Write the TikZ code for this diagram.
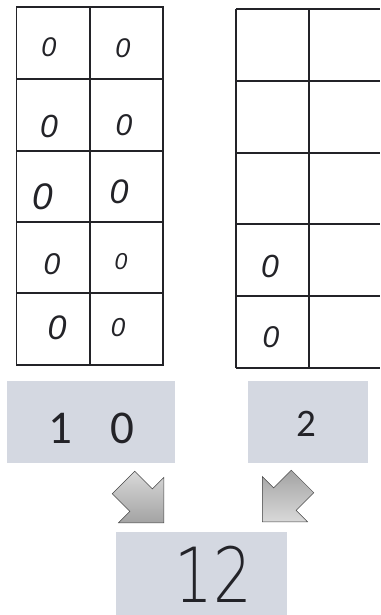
\documentclass[tikz,border=0pt]{standalone}
\usepackage{fontspec}
\setmainfont{Liberation Sans}
\newfontfamily\calib{Carlito}
\newfontfamily\zerofont{Liberation Sans}
\newfontfamily\hand{DejaVuSans-ExtraLight.ttf}[FakeStretch=0.8]
\usetikzlibrary{shapes.arrows,calc}
\definecolor{boxgray}{RGB}{212,216,225}
\definecolor{ink}{RGB}{35,35,40}
\begin{document}
\begin{tikzpicture}[x=1pt,y=-1pt,
  gridline/.style={draw=ink, line width=1.1pt},
  zero/.style={font={\zerofont\itshape\fontsize{#1pt}{#1pt}\selectfont}, text=ink, inner sep=0pt},
  box/.style={fill=boxgray, inner sep=0pt, anchor=north west},
  arr/.style={single arrow, single arrow head extend=16pt, minimum height=57pt,
    minimum width=64pt, inner xsep=0pt, inner ysep=0pt, draw=gray!55!black, line width=0.5pt}
]
\useasboundingbox (0,0) rectangle (380,615);

% left grid
\draw[gridline] (16.5,7) rectangle (163,365);
\draw[gridline] (90,7) -- (90,365);
\foreach \y in {79,151,222,293} \draw[gridline] (16.5,\y) -- (163,\y);

% right grid
\draw[gridline] (236,9) -- (236,368);
\draw[gridline] (309,9) -- (309,368);
\foreach \y in {9,81,153,224,296,368} \draw[gridline] (236,\y) -- (380,\y);

% zeros, left grid
\node[zero=27] (z11) at (49,47) {0};
\node[zero=27] (z12) at (123,48) {0};
\node[zero=32] (z21) at (49,126) {0};
\node[zero=30] (z22) at (124,125) {0};
\node[zero=37] (z31) at (43,197) {0};
\node[zero=34] (z32) at (119,192) {0};
\node[zero=30] (z41) at (52,264) {0};
\node[zero=23] (z42) at (121,262) {0};
\node[zero=34] (z51) at (57,328) {0};
\node[zero=26] (z52) at (118,328) {0};
% zeros, right grid
\node[zero=32] (r41) at (270,266) {0};
\node[zero=30] (r51) at (271,337) {0};

% number boxes
\node[box, minimum width=168pt, minimum height=82pt] (b10) at (7,381) {};
\node[box, minimum width=120pt, minimum height=82pt] (b2) at (248,381) {};
\node[box, minimum width=171pt, minimum height=86pt] (b12) at (116,532) {};
\node[font={\calib\fontsize{47pt}{47pt}\selectfont}, text=ink, inner sep=0pt] (t10)
  at ($(b10.center)+(0.5,6)$) {1\hspace{38pt}0};
\node[font={\calib\fontsize{39pt}{39pt}\selectfont}, text=ink, inner sep=0pt] (t2)
  at ($(b2.center)+(-2,2)$) {2};
\node[font={\hand\fontsize{76pt}{76pt}\selectfont}, text=ink, inner sep=0pt] (t12)
  at ($(b12.center)+(11.5,-1)$) {12};

% block arrows
\node[arr, rotate=-45, anchor=tip, top color=gray!30, bottom color=gray!72] (a1) at (164,523) {\rule{0pt}{31pt}};
\node[arr, rotate=-135, anchor=tip, top color=gray!72, bottom color=gray!30] (a2) at (262,522) {\rule{0pt}{31pt}};
\end{tikzpicture}
\end{document}
